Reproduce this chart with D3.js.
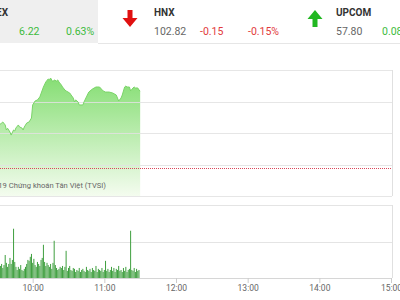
<!DOCTYPE html>
<html>
<head>
<meta charset="utf-8">
<script src="https://cdn.jsdelivr.net/npm/d3@7"></script>
<style>
  body { margin: 0; background: #fff; }
  svg { display: block; font-family: Roboto, "Noto Sans", sans-serif; }
</style>
</head>
<body>
<div id="chart"></div>
<script>
// index boxes in the header
var indexNames = ["VN-INDEX", "HNX", "UPCOM"];
var indexValues = ["", "102.82", "57.80"];
var indexChanges = ["6.22", "-0.15", "0.08"];
var indexPercents = ["0.63%", "-0.15%", "0.08%"];

// intraday price (VN-Index)
var priceTimes = ["09:32","09:34","09:35","09:37","09:38","09:39","09:41","09:42","09:44","09:45",
  "09:46","09:48","09:49","09:51","09:52","09:53","09:55","09:57","09:59","10:00",
  "10:02","10:04","10:06","10:09","10:11","10:13","10:14","10:15","10:17","10:18",
  "10:20","10:21","10:22","10:24","10:25","10:27","10:28","10:31","10:34","10:35",
  "10:36","10:38","10:39","10:42","10:43","10:45","10:47","10:50","10:53","10:56",
  "10:59","11:01","11:04","11:07","11:10","11:11","11:12","11:14","11:15","11:17",
  "11:18","11:19","11:21","11:22","11:24","11:25","11:26","11:28","11:29","11:30"];
var priceValues = [990.51,990.63,990.70,990.51,990.19,990.30,990.06,989.87,990.19,990.13,
  990.32,990.51,990.38,990.32,990.19,990.38,990.63,990.70,990.95,991.78,
  992.03,992.10,992.29,992.92,993.24,993.43,993.37,993.49,993.24,993.37,
  993.30,993.37,993.24,993.05,992.92,992.73,992.67,992.54,992.22,991.97,
  992.10,991.97,991.78,991.78,991.97,992.29,992.60,992.79,992.92,992.92,
  992.67,992.60,992.60,992.54,992.41,992.22,992.03,992.22,992.41,992.92,
  992.98,992.92,992.92,992.67,992.86,992.92,992.86,992.86,992.73,992.67];
var referenceValue = 987.8;
var priceGrid = [994, 992, 990, 988, 986];

// minute volume (thousand shares), one bar per minute from 09:32
var volumeStart = "09:32";
var volumeValues = [710,660,770,550,710,1260,830,610,770,1100,
  770,990,2700,880,610,440,610,500,710,440,
  390,500,610,770,990,940,1160,1320,830,1050,
  710,610,880,770,660,990,1100,1820,880,660,
  830,710,610,770,500,830,2040,710,550,440,
  500,610,550,660,440,610,1490,390,550,660,
  440,390,550,500,330,440,390,550,330,440,
  500,390,330,610,440,390,500,330,550,440,
  390,660,330,500,440,390,550,330,440,940,
  390,500,330,440,610,390,550,330,500,440,
  660,390,440,330,550,390,610,330,440,500,
  2590,440,390,550,330,500,390,440];
var volumeGrid = [0, 2000, 4000];
var timeTicks = ["10:00", "11:00", "12:00", "13:00", "14:00", "15:00"];

var parseTime = d3.timeParse("%H:%M");

var svg = d3.select("#chart").append("svg")
  .attr("width", 400)
  .attr("height", 300);

// ---------- header ----------
svg.append("rect")
  .attr("x", 0).attr("y", 0)
  .attr("width", 98).attr("height", 43)
  .attr("fill", "#efefef");
svg.append("line")
  .attr("x1", 98).attr("x2", 400)
  .attr("y1", 43.5).attr("y2", 43.5)
  .attr("stroke", "#e6e6e6");

var green = "#3dbb3d";
var red = "#e23b3b";
var nameX = [-38, 154, 336];
var valueX = [-27, 154, 336];
var changeX = [19, 200, 382];
var percentX = [66, 248, 430];
var arrowX = [null, 130, 315];

indexNames.forEach(function (name, i) {
  var up = indexChanges[i].charAt(0) !== "-";
  var col = up ? green : red;
  svg.append("text")
    .attr("x", nameX[i]).attr("y", 16)
    .attr("font-size", 10).attr("font-weight", "bold")
    .attr("fill", "#333")
    .text(name);
  svg.append("text")
    .attr("x", valueX[i]).attr("y", 35)
    .attr("font-size", 10.5).attr("fill", "#666")
    .text(indexValues[i]);
  svg.append("text")
    .attr("x", changeX[i]).attr("y", 35)
    .attr("font-size", 10.5).attr("fill", col)
    .text(indexChanges[i]);
  svg.append("text")
    .attr("x", percentX[i]).attr("y", 35)
    .attr("font-size", 10.5).attr("fill", col)
    .text(indexPercents[i]);

  if (arrowX[i] !== null) {
    var cx = arrowX[i];
    var path = up
      ? `M${cx - 2.5},27 L${cx - 2.5},19 L${cx - 7.5},19 L${cx},10 L${cx + 7.5},19 L${cx + 2.5},19 L${cx + 2.5},27 Z`
      : `M${cx - 2.5},10 L${cx - 2.5},18 L${cx - 7.5},18 L${cx},27 L${cx + 7.5},18 L${cx + 2.5},18 L${cx + 2.5},10 Z`;
    svg.append("path").attr("d", path).attr("fill", up ? "#22b822" : "#e01010");
  }
});

// ---------- scales ----------
var x = d3.scaleTime()
  .domain([parseTime("09:00"), parseTime("15:00")])
  .range([-39, 391]);

var yPrice = d3.scaleLinear()
  .domain([986, 994])
  .range([196, 70]);

var yVol = d3.scaleLinear()
  .domain([0, 4000])
  .range([278, 205]);

var priceData = priceTimes.map(function (t, i) {
  return { t: parseTime(t), v: priceValues[i] };
});

// ---------- price chart ----------
var defs = svg.append("defs");
var grad = defs.append("linearGradient")
  .attr("id", "areaGrad")
  .attr("x1", 0).attr("y1", 0).attr("x2", 0).attr("y2", 1);
grad.append("stop").attr("offset", "0%").attr("stop-color", "#86de74");
grad.append("stop").attr("offset", "100%").attr("stop-color", "#f4fcef");

var priceGroup = svg.append("g");

priceGroup.append("path")
  .datum(priceData)
  .attr("fill", "url(#areaGrad)")
  .attr("d", d3.area()
    .x(d => x(d.t))
    .y0(yPrice(986))
    .y1(d => yPrice(d.v)));

priceGroup.selectAll("line.grid")
  .data(priceGrid)
  .enter()
  .append("line")
  .attr("class", "grid")
  .attr("x1", 0).attr("x2", 392)
  .attr("y1", d => Math.round(yPrice(d)) + 0.5)
  .attr("y2", d => Math.round(yPrice(d)) + 0.5)
  .attr("stroke", "#e2e2e2")
  .attr("stroke-opacity", 0.85);

priceGroup.append("line")
  .attr("x1", 392.5).attr("x2", 392.5)
  .attr("y1", yPrice(994)).attr("y2", yPrice(986))
  .attr("stroke", "#e0e0e0");

priceGroup.append("path")
  .datum(priceData)
  .attr("fill", "none")
  .attr("stroke", "#7ad468")
  .attr("stroke-width", 1)
  .attr("d", d3.line()
    .x(d => x(d.t))
    .y(d => yPrice(d.v)));

priceGroup.append("line")
  .attr("x1", 0).attr("x2", 392)
  .attr("y1", Math.round(yPrice(referenceValue)) + 0.5)
  .attr("y2", Math.round(yPrice(referenceValue)) + 0.5)
  .attr("stroke", "#d9475a")
  .attr("stroke-dasharray", "1,1");

svg.append("text")
  .attr("x", 106).attr("y", 188)
  .attr("text-anchor", "end")
  .attr("font-size", 7.6).attr("fill", "#666")
  .text("© 2019 Chứng khoán Tân Việt (TVSI)");

// ---------- volume chart ----------
var volGroup = svg.append("g");

volGroup.selectAll("line.vgrid")
  .data(volumeGrid)
  .enter()
  .append("line")
  .attr("class", "vgrid")
  .attr("x1", 0).attr("x2", 392)
  .attr("y1", d => Math.round(yVol(d)) + 0.5)
  .attr("y2", d => Math.round(yVol(d)) + 0.5)
  .attr("stroke", d => d === 0 ? "#d6d6d6" : "#e4e4e4");

volGroup.append("line")
  .attr("x1", 392.5).attr("x2", 392.5)
  .attr("y1", yVol(4000)).attr("y2", yVol(0))
  .attr("stroke", "#e0e0e0");

var startTime = parseTime(volumeStart);
volGroup.selectAll("rect")
  .data(volumeValues)
  .enter()
  .append("rect")
  .attr("x", (d, i) => x(d3.timeMinute.offset(startTime, i)) - 0.5)
  .attr("width", 1)
  .attr("y", d => yVol(d))
  .attr("height", d => yVol(0) - yVol(d))
  .attr("fill", "#3f9f3f");

var xAxis = d3.axisBottom(x)
  .tickValues(timeTicks.map(parseTime))
  .tickFormat(d3.timeFormat("%H:%M"))
  .tickSize(5)
  .tickSizeOuter(0);

var axisG = volGroup.append("g")
  .attr("transform", `translate(0,${yVol(0)})`)
  .call(xAxis);
axisG.select(".domain").remove();
axisG.selectAll("line").attr("stroke", "#ccc");
axisG.selectAll("text")
  .attr("font-size", 8.5)
  .attr("fill", "#666")
  .attr("font-family", "Roboto, sans-serif")
  .attr("dy", "0.55em");
</script>
</body>
</html>
